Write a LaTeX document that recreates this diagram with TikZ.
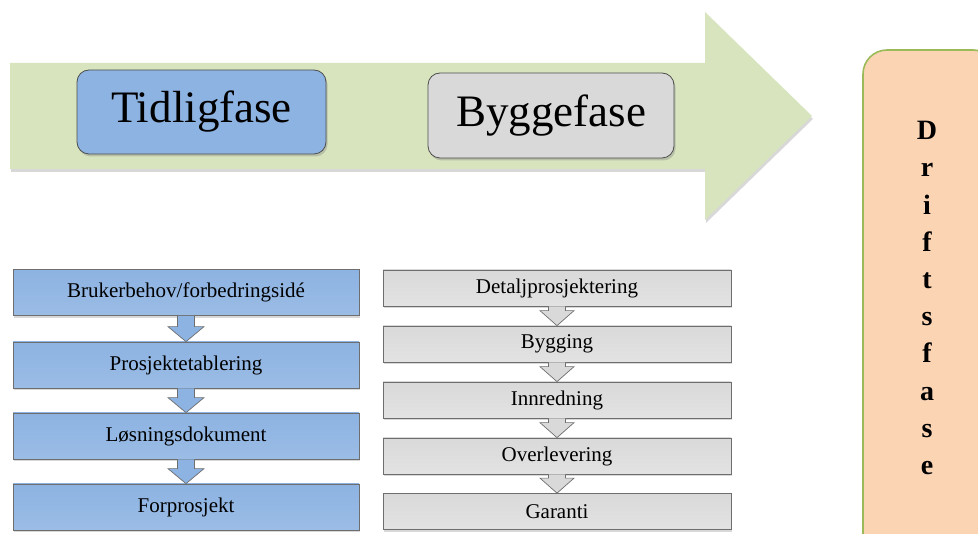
\documentclass[tikz,border=0pt]{standalone}
\usepackage{fontspec}
\setmainfont{Liberation Serif}
\usetikzlibrary{calc,shadows}

\definecolor{arrowgreen}{HTML}{D7E4BD}
\definecolor{phaseblue}{HTML}{8DB3E2}
\definecolor{phasegrey}{HTML}{D9D9D9}
\definecolor{driftfill}{HTML}{FBD4B4}
\definecolor{driftedge}{HTML}{9BBB59}
\definecolor{edgegrey}{HTML}{6E6E6E}

% block arrow from the bottom of one box to the top of the next:
% #1 style, #2 upper node, #3 lower node, #4 half shaft width, #5 half head width, #6 head length
\newcommand\flowarrow[6]{%
  \draw[#1] ($(#2.south)+(-#4,0)$) -- ($(#3.north)+(-#4,-#6)$) -- ($(#3.north)+(-#5,-#6)$)
    -- (#3.north) -- ($(#3.north)+(#5,-#6)$) -- ($(#3.north)+(#4,-#6)$) -- ($(#2.south)+(#4,0)$);}

\begin{document}
\begin{tikzpicture}[x=1pt,y=-1pt,
  phasebox/.style={draw=edgegrey!70!black, line width=0.8pt, rounded corners=12pt,
    inner sep=0pt, font=\fontsize{45}{50}\selectfont,
    drop shadow={shadow xshift=1.5pt, shadow yshift=-2.5pt, opacity=0.35}},
  stepblue/.style={draw=edgegrey, line width=0.7pt, top color=phaseblue, bottom color=phaseblue!88!white,
    minimum width=346pt, minimum height=46pt, inner sep=0pt, font=\fontsize{21}{24}\selectfont,
    drop shadow={shadow xshift=1pt, shadow yshift=-2.5pt, opacity=0.3}},
  stepgrey/.style={draw=edgegrey, line width=0.7pt, top color=phasegrey, bottom color=phasegrey!75!white,
    minimum width=348pt, minimum height=36pt, inner sep=0pt, font=\fontsize{21}{24}\selectfont,
    drop shadow={shadow xshift=1pt, shadow yshift=-2.5pt, opacity=0.3}},
  bluearrow/.style={draw=edgegrey, line width=0.7pt, fill=phaseblue},
  greyarrow/.style={draw=edgegrey, line width=0.7pt, fill=phasegrey}]

\clip (0,0) rectangle (978,534);
\fill[white] (0,0) rectangle (978,534);

% large timeline arrow
\fill[arrowgreen, drop shadow={shadow xshift=1pt, shadow yshift=-3pt, opacity=0.3}]
  (10,63) -- (705,63) -- (705,12) -- (812,116) -- (705,220) -- (705,169) -- (10,169) -- cycle;

% phase labels on the arrow
\node[phasebox, fill=phaseblue, minimum width=249pt, minimum height=84pt] (tidlig) at (201.5,112) {Tidligfase};
\node[phasebox, fill=phasegrey, minimum width=246pt, minimum height=85pt] (bygge) at (551,115.5) {Byggefase};

% operation phase
\node[draw=driftedge, line width=1.6pt, fill=driftfill, rounded corners=24pt,
  minimum width=134pt, minimum height=510pt] (drift) at (930,305) {};
\node[font=\bfseries\fontsize{28}{37.2}\selectfont, align=center] (driftlabel) at (927,298)
  {D\\r\\i\\f\\t\\s\\f\\a\\s\\e};

% early phase steps
\node[stepblue] (b1) at (186,292.5) {Brukerbehov/forbedringsidé};
\node[stepblue] (b2) at (186,365) {Prosjektetablering};
\node[stepblue] (b3) at (186,436) {Løsningsdokument};
\node[stepblue] (b4) at (186,507) {Forprosjekt};
\flowarrow{bluearrow}{b1}{b2}{8.5}{18}{15}
\flowarrow{bluearrow}{b2}{b3}{8.5}{18}{15}
\flowarrow{bluearrow}{b3}{b4}{8.5}{18}{15}

% construction phase steps
\node[stepgrey] (g1) at (557,288) {Detaljprosjektering};
\node[stepgrey] (g2) at (557,344) {Bygging};
\node[stepgrey] (g3) at (557,400) {Innredning};
\node[stepgrey] (g4) at (557,456) {Overlevering};
\node[stepgrey] (g5) at (557,511.5) {Garanti};
\flowarrow{greyarrow}{g1}{g2}{8.5}{17}{15}
\flowarrow{greyarrow}{g2}{g3}{8.5}{17}{15}
\flowarrow{greyarrow}{g3}{g4}{8.5}{17}{15}
\flowarrow{greyarrow}{g4}{g5}{8.5}{17}{15}
\end{tikzpicture}
\end{document}
